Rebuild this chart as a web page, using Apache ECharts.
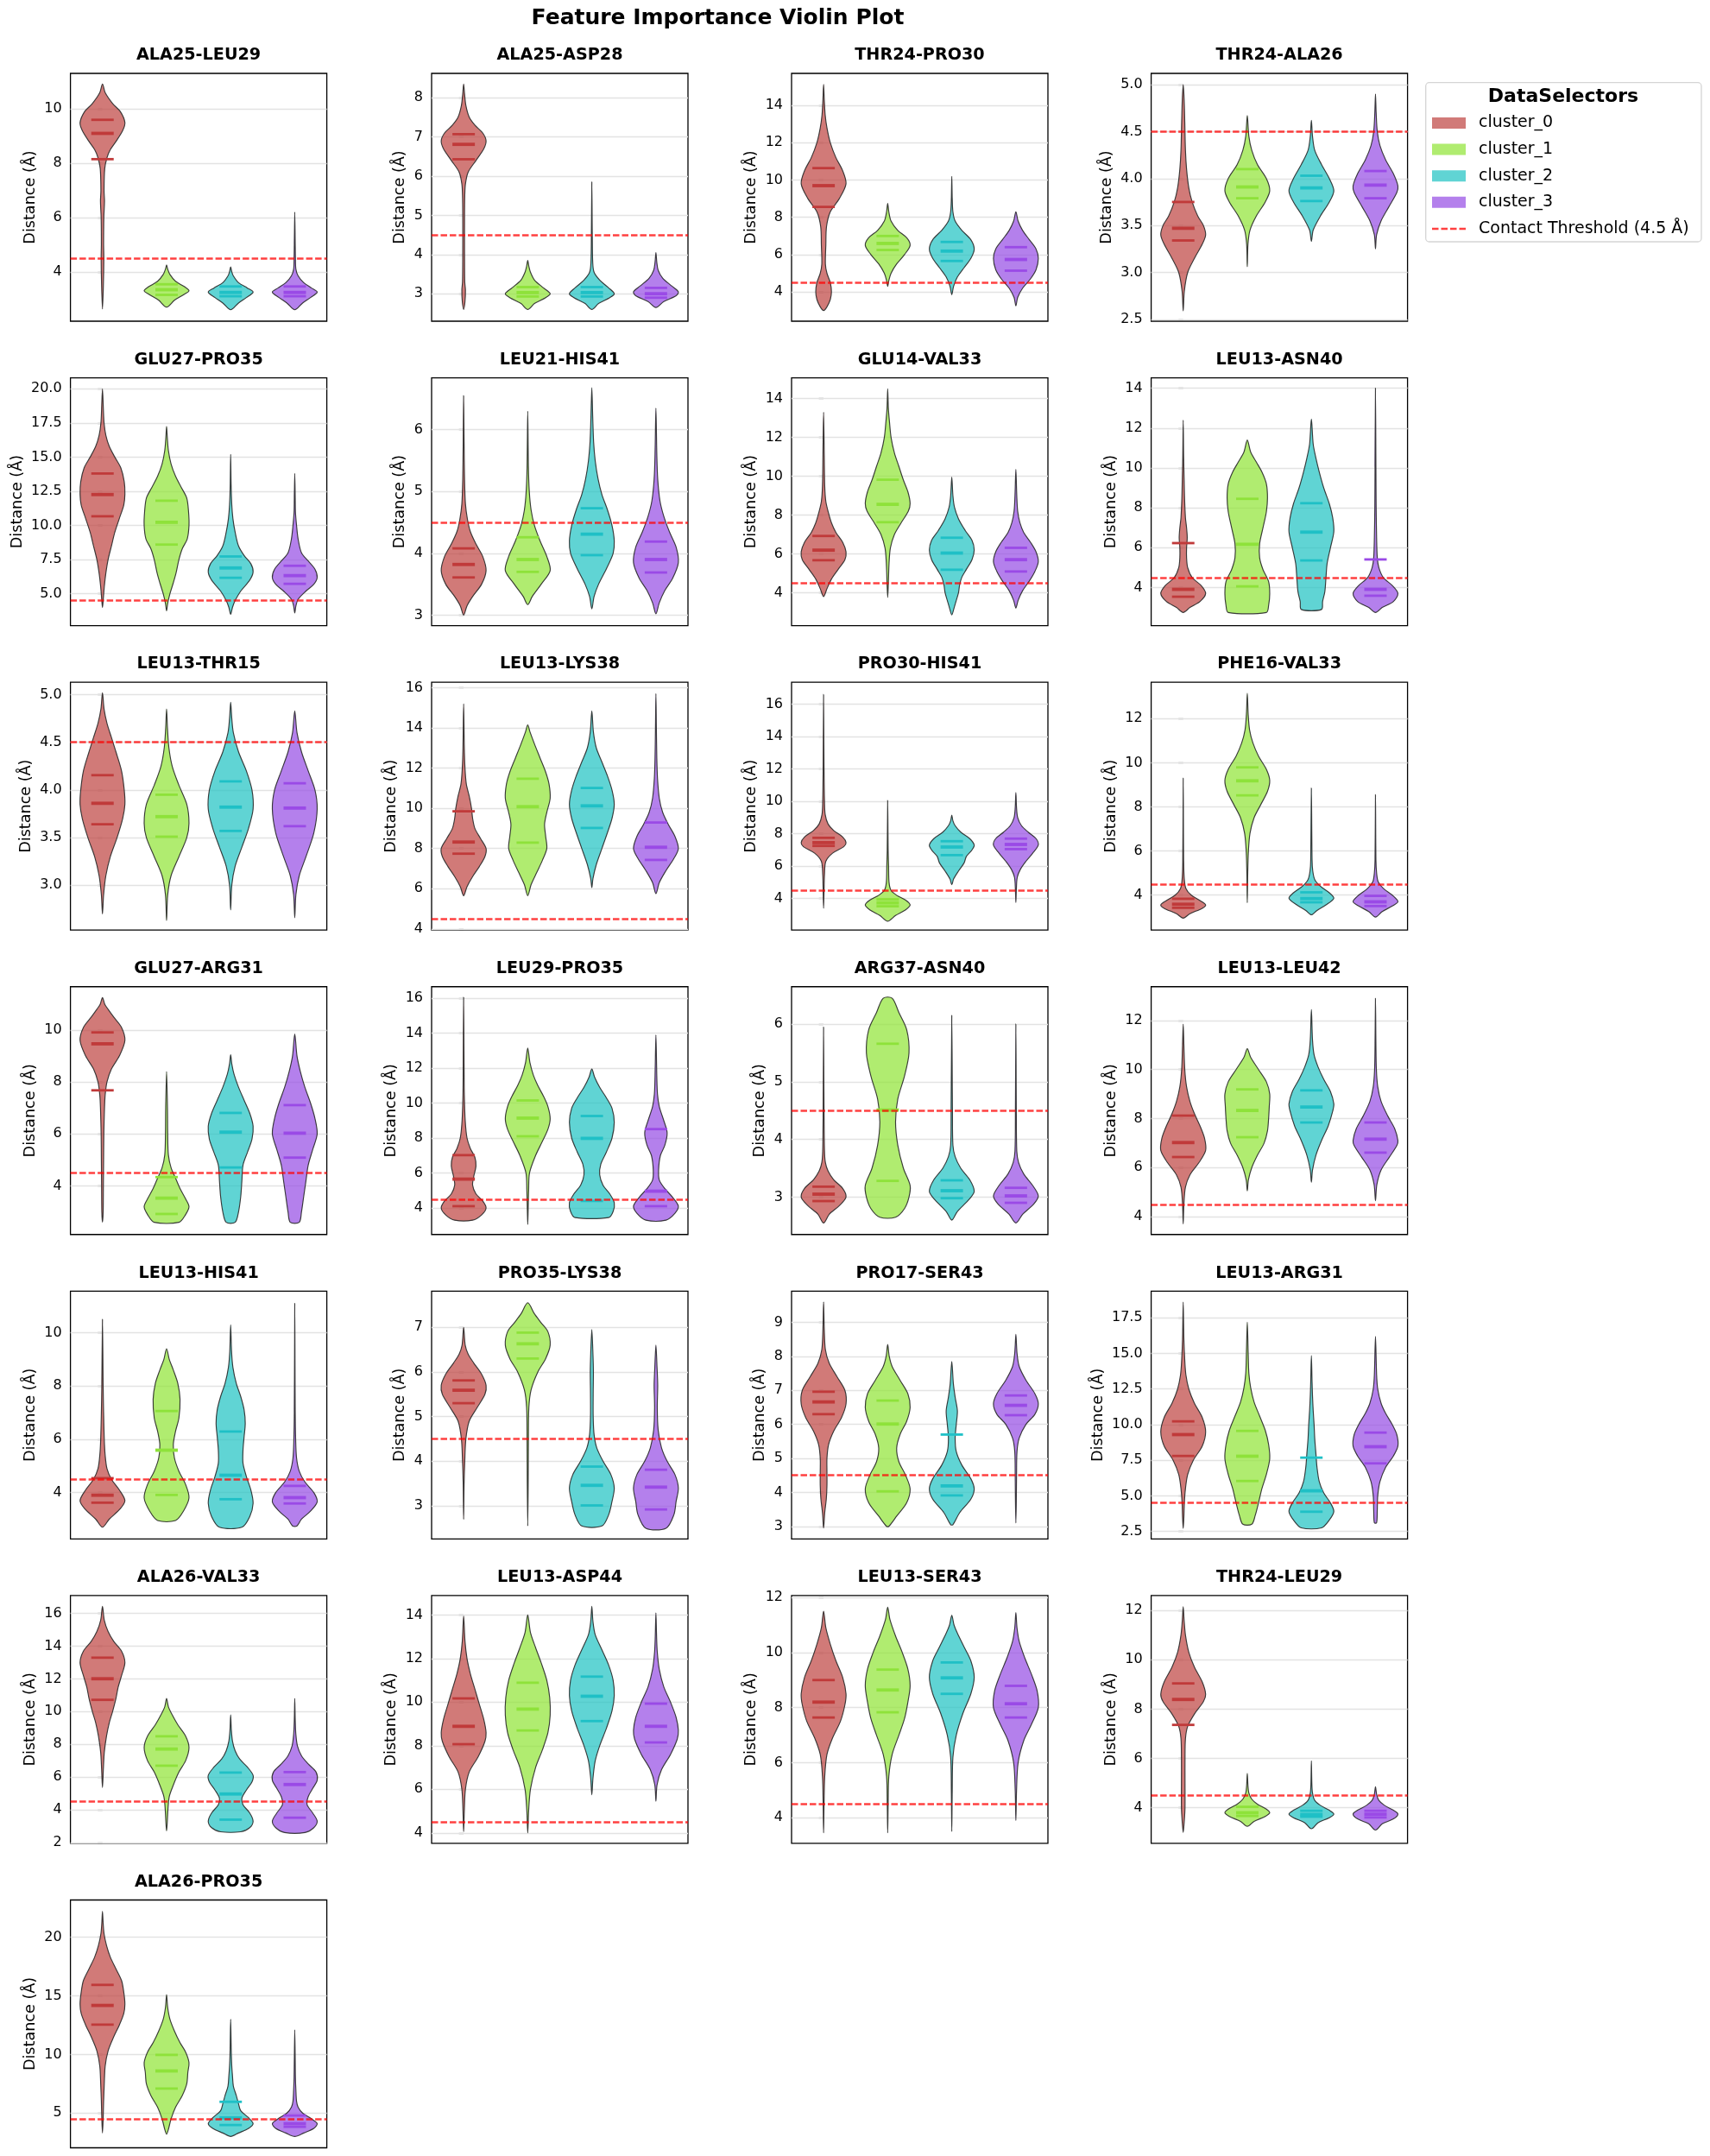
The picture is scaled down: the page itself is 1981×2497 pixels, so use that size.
<!DOCTYPE html>
<html><head><meta charset="utf-8">
<script src="https://cdn.jsdelivr.net/npm/echarts@6/dist/echarts.min.js"></script>
<style>html,body{margin:0;padding:0;background:#fff}#c{width:1981px;height:2497px}</style>
</head><body><div id="c"></div>
<script>
const titles = ['ALA25-LEU29','ALA25-ASP28','THR24-PRO30','THR24-ALA26','GLU27-PRO35','LEU21-HIS41','GLU14-VAL33','LEU13-ASN40','LEU13-THR15','LEU13-LYS38','PRO30-HIS41','PHE16-VAL33','GLU27-ARG31','LEU29-PRO35','ARG37-ASN40','LEU13-LEU42','LEU13-HIS41','PRO35-LYS38','PRO17-SER43','LEU13-ARG31','ALA26-VAL33','LEU13-ASP44','LEU13-SER43','THR24-LEU29','ALA26-PRO35'];
const clusterNames = ['cluster_0','cluster_1','cluster_2','cluster_3'];
const thresholdName = 'Contact Threshold (4.5 Å)';
const thresholdValue = 4.5;
const yLimits = [[2.18,11.31],[2.30,8.62],[2.43,15.72],[2.48,5.12],[2.67,20.8],[2.83,6.84],[2.3,15.07],[2.09,14.52],[2.53,5.13],[3.94,16.27],[2.05,17.36],[2.41,13.65],[2.13,11.67],[2.48,16.66],[2.35,6.65],[3.27,13.38],[2.26,11.56],[2.26,7.81],[2.63,9.92],[1.97,19.38],[1.94,17.1],[3.52,14.89],[3.07,12.07],[2.56,12.6],[2.04,23.17]];
const tickSteps = [2,1,2,0.5,2.5,1,2,2,0.5,2,2,2,2,2,1,2,2,1,1,2.5,2,2,2,2,5];
// [q3, median, q1] per cluster
const quartiles = [
[[9.6,9.1,8.15],[3.54,3.34,3.15],[3.46,3.24,3.10],[3.46,3.24,3.10]],
[[7.07,6.81,6.43],[3.17,3.03,2.93],[3.17,3.03,2.93],[3.15,3.0,2.9]],
[[10.64,9.70,8.56],[7.0,6.6,6.25],[6.68,6.19,5.66],[6.40,5.74,5.14]],
[[3.75,3.47,3.34],[4.10,3.91,3.79],[4.03,3.90,3.76],[4.08,3.93,3.79]],
[[13.8,12.26,10.67],[11.81,10.23,8.6],[7.73,6.89,6.17],[7.05,6.33,5.73]],
[[4.08,3.82,3.61],[4.26,3.9,3.70],[4.73,4.31,3.97],[4.19,3.9,3.69]],
[[6.92,6.19,5.67],[9.82,8.55,7.63],[6.83,6.04,5.18],[6.31,5.70,5.09]],
[[6.23,3.91,3.54],[8.45,6.17,4.06],[8.23,6.78,5.36],[5.41,3.91,3.59]],
[[4.155,3.86,3.64],[3.95,3.72,3.51],[4.09,3.82,3.57],[4.07,3.81,3.62]],
[[9.85,8.32,7.74],[11.47,10.08,8.29],[11.01,10.12,9.02],[9.29,8.06,7.43]],
[[7.75,7.45,7.25],[3.95,3.73,3.52],[7.54,7.18,6.68],[7.70,7.34,7.05]],
[[3.83,3.58,3.42],[9.79,9.18,8.52],[4.12,3.84,3.67],[3.96,3.69,3.50]],
[[9.91,9.47,7.68],[4.34,3.53,2.92],[6.81,6.07,4.71],[7.11,6.03,5.09]],
[[7.02,5.65,4.1],[10.15,9.14,8.10],[9.26,7.98,4.40],[8.51,4.96,4.1]],
[[3.18,3.05,2.93],[5.66,4.51,3.28],[3.29,3.11,2.98],[3.16,3.02,2.90]],
[[8.12,7.02,6.43],[9.19,8.33,7.24],[9.15,8.47,7.84],[7.84,7.16,6.61]],
[[4.54,3.90,3.62],[7.06,5.59,3.91],[6.29,4.65,3.75],[4.25,3.81,3.59]],
[[5.81,5.59,5.30],[6.88,6.63,6.30],[3.88,3.46,3.01],[3.81,3.42,2.92]],
[[6.96,6.66,6.30],[6.70,6.01,4.03],[5.70,4.19,3.91],[6.85,6.56,6.27]],
[[10.23,9.30,7.80],[9.56,7.78,6.04],[7.68,5.35,3.88],[9.44,8.45,7.28]],
[[13.30,12.01,10.72],[8.49,7.71,6.69],[6.27,4.96,3.39],[6.30,5.54,3.51]],
[[10.17,8.89,8.07],[10.89,9.68,8.70],[11.17,10.27,9.13],[9.93,8.89,8.15]],
[[9.0,8.2,7.64],[9.38,8.64,7.83],[9.64,9.08,8.50],[8.79,8.14,7.64]],
[[9.04,8.39,7.36],[4.04,3.80,3.67],[3.88,3.73,3.64],[3.88,3.74,3.61]],
[[15.93,14.18,12.54],[9.96,8.59,7.09],[5.96,4.59,3.98],[4.79,4.10,3.83]]
];
// violin outlines: flat pairs [distance, relative half-width] from bottom to top
const profiles = [
[[2.63,0,3.5,0.04,4.5,0.06,5.0,0.05,6.0,0.06,6.6,0.09,7.0,0.07,7.8,0.1,8.2,0.2,8.5,0.35,8.8,0.6,9.2,0.9,9.5,1.0,9.9,0.8,10.2,0.45,10.6,0.12,10.92,0],
 [2.7,0,2.95,0.35,3.15,0.75,3.3,1.0,3.45,0.8,3.65,0.4,3.9,0.15,4.1,0.05,4.25,0],
 [2.6,0,2.85,0.35,3.05,0.7,3.25,1.0,3.4,0.75,3.6,0.35,3.85,0.12,4.0,0.05,4.18,0],
 [2.6,0,2.85,0.35,3.05,0.7,3.25,1.0,3.4,0.75,3.6,0.4,3.85,0.15,4.1,0.05,4.5,0.03,5.0,0.02,6.2,0]],
[[2.6,0,2.8,0.06,3.1,0.08,3.3,0.05,4,0.04,5,0.04,5.5,0.05,5.8,0.08,6.1,0.2,6.4,0.55,6.7,0.9,6.9,1.0,7.1,0.85,7.3,0.5,7.5,0.25,7.8,0.1,8.1,0.04,8.35,0],
 [2.6,0,2.75,0.3,2.9,0.8,3.0,1.0,3.15,0.7,3.35,0.3,3.55,0.12,3.7,0.05,3.85,0],
 [2.6,0,2.75,0.3,2.9,0.8,3.0,1.0,3.15,0.75,3.35,0.35,3.55,0.1,3.8,0.04,4.5,0.02,5.85,0],
 [2.65,0,2.8,0.35,2.95,0.9,3.05,1.0,3.2,0.7,3.4,0.3,3.6,0.1,3.8,0.04,4.05,0]],
[[3.0,0,3.2,0.15,3.6,0.3,4.0,0.35,4.5,0.3,5.0,0.15,5.5,0.08,6.5,0.1,7.5,0.13,8.3,0.3,9.0,0.7,9.8,1.0,10.5,0.85,11.2,0.55,12,0.3,12.8,0.15,13.5,0.07,14.3,0.03,15.14,0],
 [4.3,0,4.6,0.05,5.0,0.15,5.5,0.4,6.0,0.75,6.5,1.0,6.9,0.85,7.3,0.45,7.8,0.15,8.3,0.05,8.75,0],
 [3.85,0,4.3,0.08,4.8,0.25,5.3,0.55,5.8,0.85,6.3,1.0,6.8,0.85,7.3,0.45,7.8,0.15,8.3,0.05,9,0.02,10.2,0],
 [3.25,0,3.7,0.08,4.2,0.3,4.7,0.65,5.2,0.9,5.8,1.0,6.3,0.9,6.8,0.6,7.3,0.3,7.8,0.1,8.3,0]],
[[2.59,0,2.8,0.05,3.0,0.2,3.15,0.5,3.3,0.85,3.4,1.0,3.5,0.9,3.6,0.65,3.75,0.4,3.9,0.25,4.1,0.15,4.3,0.1,4.6,0.07,4.85,0.04,5.0,0],
 [3.06,0,3.3,0.03,3.45,0.12,3.6,0.4,3.75,0.8,3.87,1.0,4.0,0.85,4.15,0.45,4.3,0.2,4.45,0.07,4.67,0],
 [3.33,0,3.45,0.08,3.6,0.4,3.75,0.8,3.87,1.0,4.0,0.8,4.15,0.45,4.3,0.15,4.45,0.05,4.62,0],
 [3.25,0,3.4,0.05,3.55,0.25,3.7,0.6,3.85,0.95,3.92,1.0,4.05,0.8,4.2,0.45,4.35,0.2,4.5,0.08,4.7,0.03,4.9,0]],
[[4.0,0,4.5,0.03,5.5,0.08,6.5,0.15,7.5,0.25,8.5,0.4,9.5,0.55,10.5,0.75,11.5,0.95,12.3,1.0,13.2,0.97,14.2,0.82,15,0.55,15.8,0.3,16.6,0.15,17.5,0.07,18.5,0.04,20,0],
 [3.75,0,4.3,0.05,5,0.15,5.8,0.3,6.5,0.42,7.5,0.55,8.3,0.7,9,0.92,10,1.0,11,0.98,12,0.9,12.8,0.65,13.6,0.4,14.5,0.2,15.5,0.08,16.5,0.03,17.25,0],
 [3.5,0,4,0.08,4.5,0.2,5.2,0.45,6,0.85,6.6,1.0,7.2,0.9,7.8,0.6,8.5,0.35,9.5,0.2,10.5,0.1,11.5,0.05,13,0.02,15.2,0],
 [3.6,0,4.1,0.05,4.6,0.15,5.2,0.5,5.7,0.85,6.2,1.0,6.8,0.9,7.4,0.6,8,0.3,9,0.15,10,0.08,11,0.03,12,0.02,13.8,0]],
[[3.0,0,3.15,0.15,3.3,0.4,3.5,0.8,3.72,1.0,3.95,0.85,4.15,0.55,4.35,0.3,4.55,0.17,4.8,0.08,5.2,0.04,5.8,0.02,6.55,0],
 [3.17,0,3.3,0.2,3.5,0.6,3.72,1.0,3.95,0.85,4.2,0.55,4.45,0.3,4.7,0.15,5.0,0.07,5.4,0.03,6.3,0],
 [3.1,0,3.3,0.1,3.5,0.3,3.75,0.65,4.0,0.95,4.2,1.0,4.45,0.9,4.7,0.7,4.95,0.45,5.2,0.28,5.5,0.15,5.8,0.08,6.2,0.04,6.68,0],
 [3.02,0,3.2,0.15,3.4,0.4,3.6,0.75,3.85,1.0,4.1,0.9,4.35,0.6,4.6,0.35,4.85,0.18,5.2,0.08,5.6,0.04,6.35,0]],
[[3.8,0,4.2,0.15,4.7,0.35,5.2,0.65,5.7,0.95,6.1,1.0,6.6,0.85,7.1,0.55,7.6,0.35,8.1,0.22,8.7,0.1,9.5,0.05,11,0.03,13.3,0],
 [3.75,0,4.5,0.03,5.5,0.06,6.3,0.12,7.0,0.3,7.6,0.6,8.2,0.92,8.6,1.0,9.2,0.9,9.8,0.7,10.5,0.5,11.2,0.3,12,0.15,12.8,0.08,13.5,0.03,14.5,0],
 [2.85,0,3.2,0.1,3.6,0.2,4.0,0.3,4.4,0.35,4.8,0.45,5.2,0.65,5.7,0.9,6.2,1.0,6.7,0.9,7.2,0.6,7.8,0.3,8.4,0.12,9.0,0.05,9.95,0],
 [3.2,0,3.6,0.1,4.1,0.3,4.6,0.6,5.1,0.85,5.6,1.0,6.1,0.9,6.6,0.65,7.1,0.35,7.6,0.18,8.2,0.08,9,0.04,10.35,0]],
[[2.75,0,3.0,0.3,3.3,0.75,3.7,1.0,4.1,0.8,4.5,0.4,5.0,0.2,5.5,0.15,6.0,0.15,6.5,0.18,7.0,0.15,7.5,0.1,8.5,0.06,9.5,0.04,10.5,0.02,12.4,0],
 [2.75,0.85,3.1,0.95,3.7,1.0,4.3,0.95,4.9,0.7,5.5,0.55,6.2,0.55,7.0,0.7,7.8,0.85,8.5,0.9,9.2,0.85,9.8,0.65,10.3,0.4,10.8,0.15,11.4,0],
 [2.9,0.45,3.3,0.5,3.8,0.6,4.5,0.65,5.2,0.7,6,0.85,6.8,1.0,7.5,0.95,8.2,0.8,9,0.55,9.8,0.35,10.5,0.2,11.2,0.08,12.45,0],
 [2.75,0,3.0,0.3,3.3,0.8,3.7,1.0,4.1,0.75,4.5,0.35,5.0,0.15,5.5,0.08,6.5,0.05,8,0.03,10,0.02,14,0]],
[[2.7,0,2.9,0.05,3.1,0.15,3.3,0.35,3.5,0.65,3.7,0.9,3.85,1.0,4.0,0.97,4.2,0.85,4.4,0.6,4.55,0.4,4.7,0.2,4.85,0.07,5.02,0],
 [2.63,0,2.9,0.05,3.1,0.2,3.3,0.55,3.5,0.9,3.65,1.0,3.85,0.9,4.05,0.55,4.25,0.25,4.45,0.1,4.65,0.04,4.85,0],
 [2.74,0,3.0,0.05,3.2,0.2,3.4,0.5,3.6,0.8,3.8,1.0,4.0,0.95,4.2,0.7,4.4,0.35,4.6,0.12,4.75,0.05,4.92,0],
 [2.66,0,2.9,0.05,3.1,0.2,3.3,0.5,3.55,0.85,3.8,1.0,4.0,0.9,4.2,0.6,4.4,0.3,4.6,0.1,4.83,0]],
[[5.65,0,6.1,0.15,6.6,0.4,7.1,0.7,7.6,0.95,8.0,1.0,8.5,0.75,9.0,0.5,9.5,0.4,10.0,0.35,10.6,0.25,11.2,0.12,12,0.06,13,0.03,15.2,0],
 [5.65,0,6.2,0.15,6.8,0.4,7.4,0.65,8.0,0.85,8.6,0.8,9.2,0.75,9.8,0.85,10.5,1.0,11.2,0.95,11.8,0.8,12.5,0.55,13.2,0.3,13.8,0.1,14.15,0],
 [6.05,0,6.5,0.05,7.2,0.2,8.0,0.45,8.8,0.7,9.5,0.9,10.2,1.0,10.9,0.9,11.6,0.7,12.3,0.45,13,0.2,13.8,0.07,14.85,0],
 [5.75,0,6.3,0.15,6.9,0.45,7.5,0.8,8.0,1.0,8.6,0.85,9.2,0.55,9.8,0.3,10.5,0.15,11.5,0.07,12.5,0.04,14,0.02,15.7,0]],
[[3.4,0,4.5,0.02,5.5,0.04,6.3,0.1,6.8,0.4,7.2,0.9,7.45,1.0,7.8,0.85,8.2,0.45,8.6,0.2,9.2,0.07,10,0.04,12,0.02,16.6,0],
 [2.6,0,2.95,0.35,3.3,0.8,3.6,1.0,3.9,0.8,4.2,0.4,4.5,0.15,5.0,0.06,6,0.04,7,0.02,10.05,0],
 [4.85,0,5.2,0.08,5.7,0.3,6.2,0.55,6.6,0.65,7.0,0.9,7.3,1.0,7.7,0.8,8.1,0.4,8.5,0.15,8.8,0.05,9.15,0],
 [3.75,0,4.5,0.02,5.3,0.06,5.8,0.2,6.3,0.45,6.8,0.75,7.3,1.0,7.7,0.9,8.1,0.55,8.5,0.25,9,0.08,9.6,0.03,10.55,0]],
[[2.95,0,3.15,0.3,3.4,0.85,3.55,1.0,3.75,0.75,4.0,0.35,4.3,0.12,4.7,0.05,5.5,0.02,9.3,0],
 [3.65,0,5,0.02,6,0.05,6.8,0.12,7.5,0.3,8.1,0.6,8.7,0.9,9.2,1.0,9.7,0.85,10.3,0.5,10.9,0.25,11.5,0.1,12.2,0.04,13.15,0],
 [3.1,0,3.3,0.25,3.55,0.65,3.85,1.0,4.1,0.8,4.4,0.4,4.7,0.15,5.1,0.06,5.6,0.03,8.85,0],
 [3.0,0,3.25,0.3,3.5,0.75,3.7,1.0,3.95,0.8,4.3,0.35,4.6,0.12,5.0,0.05,5.6,0.02,8.55,0]],
[[2.6,0,3,0.03,4,0.04,5,0.05,6,0.06,7,0.09,7.5,0.12,8.0,0.2,8.5,0.4,9.0,0.75,9.6,1.0,10.1,0.85,10.5,0.5,10.8,0.25,11.0,0.1,11.25,0],
 [2.6,0.55,2.9,0.85,3.2,1.0,3.5,0.85,3.9,0.6,4.3,0.4,4.7,0.2,5.2,0.08,6,0.05,7,0.04,8.4,0],
 [2.6,0.2,3.0,0.35,3.6,0.45,4.2,0.5,4.8,0.55,5.3,0.75,5.8,0.95,6.3,1.0,6.8,0.85,7.3,0.6,7.8,0.35,8.3,0.15,8.7,0.05,9.05,0],
 [2.6,0.2,3.0,0.3,3.6,0.4,4.2,0.5,4.8,0.6,5.4,0.8,6.0,1.0,6.6,0.9,7.2,0.7,7.8,0.45,8.4,0.25,9.0,0.1,9.85,0]],
[[3.3,0.4,3.6,0.8,4.0,1.0,4.4,0.85,4.8,0.55,5.3,0.4,5.8,0.45,6.4,0.55,6.9,0.5,7.4,0.3,8,0.15,9,0.07,10.5,0.03,12,0.02,16.05,0],
 [3.05,0,4,0.02,5,0.04,6,0.08,7,0.35,7.8,0.65,8.5,0.9,9.1,1.0,9.8,0.9,10.4,0.7,11,0.45,11.6,0.25,12.3,0.1,13.15,0],
 [3.45,0.75,3.8,0.95,4.3,1.0,4.8,0.8,5.3,0.5,5.9,0.35,6.5,0.4,7.2,0.65,8.0,0.9,8.9,1.0,9.7,0.9,10.3,0.65,10.9,0.35,11.5,0.12,11.95,0],
 [3.3,0.45,3.7,0.85,4.1,1.0,4.6,0.75,5.1,0.4,5.6,0.15,6.2,0.12,7.0,0.2,7.6,0.4,8.3,0.5,9.0,0.35,9.8,0.15,10.5,0.07,11.5,0.04,13.9,0]],
[[2.55,0,2.7,0.25,2.85,0.7,3.0,1.0,3.15,0.85,3.3,0.45,3.45,0.2,3.6,0.08,3.8,0.04,4.5,0.02,5.95,0],
 [2.65,0.35,2.8,0.75,3.0,0.95,3.2,1.0,3.5,0.7,3.9,0.45,4.3,0.35,4.7,0.45,5.1,0.75,5.5,0.95,5.9,0.85,6.2,0.5,6.45,0.2],
 [2.6,0,2.75,0.25,2.95,0.75,3.1,1.0,3.3,0.8,3.5,0.4,3.7,0.15,3.9,0.05,4.5,0.03,6.15,0],
 [2.55,0,2.7,0.3,2.88,0.8,3.02,1.0,3.2,0.75,3.4,0.35,3.6,0.12,3.8,0.04,4.5,0.02,6.0,0]],
[[3.7,0,4.5,0.03,5.2,0.1,5.7,0.3,6.2,0.7,6.7,1.0,7.2,0.95,7.7,0.75,8.2,0.5,8.7,0.3,9.3,0.15,10,0.07,11,0.03,11.85,0],
 [5.05,0,5.5,0.05,6.0,0.2,6.5,0.45,7.0,0.75,7.5,0.9,8.0,0.95,8.5,0.98,9.0,1.0,9.5,0.85,10.0,0.5,10.5,0.15,10.85,0],
 [5.4,0,5.9,0.05,6.5,0.2,7.1,0.45,7.7,0.75,8.3,0.95,8.6,1.0,9.1,0.85,9.6,0.55,10.1,0.3,10.6,0.12,11.2,0.05,12.45,0],
 [4.65,0,5.3,0.06,5.9,0.25,6.4,0.6,6.9,0.95,7.1,1.0,7.6,0.85,8.1,0.55,8.7,0.25,9.3,0.1,10,0.04,11,0.02,12.9,0]],
[[2.7,0,3.0,0.3,3.4,0.8,3.7,1.0,4.1,0.75,4.5,0.4,4.9,0.2,5.4,0.12,6,0.08,7,0.05,8,0.03,10.5,0],
 [2.95,0.4,3.3,0.75,3.8,1.0,4.3,0.85,4.8,0.55,5.3,0.35,5.8,0.3,6.3,0.4,6.8,0.55,7.5,0.6,8.1,0.5,8.6,0.3,9.0,0.12,9.4,0],
 [2.7,0.5,3.1,0.85,3.6,1.0,4.1,0.9,4.6,0.7,5.1,0.55,5.6,0.55,6.1,0.6,6.6,0.65,7.1,0.6,7.6,0.45,8.1,0.25,8.7,0.1,9.3,0.04,10.3,0],
 [2.75,0.1,3.0,0.3,3.3,0.7,3.65,1.0,4.0,0.85,4.4,0.45,4.8,0.2,5.3,0.08,6,0.04,7,0.02,11.1,0]],
[[2.7,0,3.5,0.02,4.0,0.05,4.5,0.1,4.9,0.25,5.2,0.6,5.5,0.95,5.7,1.0,5.95,0.8,6.2,0.45,6.4,0.2,6.6,0.07,7.0,0],
 [2.55,0,3.5,0.02,4.5,0.03,5.2,0.05,5.6,0.15,6.0,0.45,6.3,0.8,6.6,1.0,6.9,0.9,7.1,0.6,7.3,0.3,7.55,0],
 [2.55,0.45,2.8,0.75,3.1,0.9,3.4,1.0,3.7,0.85,4.0,0.5,4.3,0.22,4.6,0.1,5.0,0.06,5.5,0.06,6.0,0.07,6.4,0.05,6.95,0],
 [2.5,0.45,2.8,0.8,3.1,0.9,3.4,1.0,3.7,0.85,4.0,0.5,4.3,0.25,4.7,0.1,5.2,0.06,5.7,0.08,6.1,0.05,6.6,0]],
[[2.95,0,3.4,0.05,3.8,0.12,4.2,0.15,4.6,0.15,5.0,0.15,5.4,0.22,5.8,0.45,6.2,0.8,6.6,1.0,7.0,0.95,7.4,0.6,7.8,0.25,8.2,0.08,8.8,0.03,9.6,0],
 [3.0,0.05,3.3,0.4,3.7,0.85,4.1,1.0,4.5,0.8,4.9,0.5,5.3,0.4,5.7,0.55,6.1,0.85,6.5,1.0,6.9,0.9,7.3,0.55,7.7,0.2,8.0,0.07,8.35,0],
 [3.05,0.05,3.4,0.35,3.8,0.85,4.1,1.0,4.4,0.85,4.8,0.45,5.2,0.2,5.6,0.15,6.0,0.2,6.4,0.25,6.8,0.15,7.2,0.07,7.85,0],
 [3.1,0,3.8,0.02,4.5,0.03,5.2,0.05,5.6,0.15,6.0,0.45,6.3,0.85,6.6,1.0,6.9,0.85,7.3,0.45,7.7,0.15,8.1,0.05,8.65,0]],
[[2.7,0,3.5,0.03,4.5,0.05,5.5,0.1,6.5,0.2,7.5,0.45,8.5,0.85,9.5,1.0,10.5,0.85,11.5,0.5,12.5,0.25,13.5,0.12,14.5,0.07,16,0.03,18.6,0],
 [3.0,0.2,3.6,0.35,4.5,0.5,5.5,0.65,6.5,0.85,7.6,1.0,8.6,0.95,9.6,0.8,10.6,0.55,11.6,0.3,12.6,0.15,13.6,0.07,15,0.04,17.2,0],
 [2.75,0.45,3.3,0.8,3.9,1.0,4.5,0.85,5.2,0.55,6.0,0.35,7.0,0.25,8.0,0.2,9.0,0.15,10.0,0.12,11,0.08,12,0.05,13,0.03,14.85,0],
 [3.1,0.05,4,0.08,5,0.1,6,0.2,7,0.45,7.8,0.8,8.5,1.0,9.3,0.95,10,0.75,10.8,0.45,11.5,0.25,12.5,0.1,13.5,0.05,16.2,0]],
[[5.35,0,6.5,0.04,7.5,0.08,8.5,0.18,9.3,0.3,10,0.45,10.8,0.6,11.5,0.7,12.2,0.85,13,1.0,13.7,0.85,14.3,0.5,14.9,0.25,15.6,0.08,16.45,0],
 [2.7,0,3.2,0.03,4,0.06,4.8,0.12,5.5,0.3,6.3,0.55,7.0,0.85,7.8,1.0,8.5,0.85,9.2,0.5,9.8,0.25,10.3,0.08,10.8,0],
 [2.65,0.45,2.9,0.85,3.3,1.0,3.8,0.85,4.3,0.55,4.7,0.5,5.2,0.7,5.7,0.95,6.1,1.0,6.6,0.75,7.1,0.4,7.6,0.2,8.2,0.08,8.9,0.03,9.8,0],
 [2.6,0.45,2.9,0.85,3.3,1.0,3.8,0.8,4.3,0.55,4.8,0.6,5.3,0.8,5.8,1.0,6.3,0.95,6.8,0.6,7.3,0.3,7.9,0.12,8.6,0.05,9.5,0.02,10.8,0]],
[[4.05,0,5,0.03,6,0.08,6.8,0.25,7.5,0.65,8.2,0.95,8.6,1.0,9.2,0.9,9.9,0.7,10.6,0.5,11.3,0.3,12,0.15,12.8,0.06,13.95,0],
 [4.0,0,5,0.04,6,0.12,7,0.35,7.8,0.65,8.6,0.9,9.4,1.0,10.2,0.98,11,0.85,11.8,0.6,12.5,0.35,13.2,0.12,14.0,0],
 [5.75,0,6.5,0.05,7.3,0.15,8.0,0.35,8.8,0.65,9.6,0.9,10.3,1.0,11.0,0.95,11.7,0.75,12.4,0.45,13.1,0.15,13.7,0.05,14.4,0],
 [5.45,0,6.2,0.05,6.9,0.25,7.6,0.65,8.3,0.95,8.7,1.0,9.3,0.9,10,0.65,10.7,0.35,11.5,0.15,12.3,0.06,13,0.03,14.1,0]],
[[3.45,0,4.5,0.02,5.5,0.05,6.3,0.15,6.9,0.4,7.5,0.75,8.1,0.95,8.5,1.0,9.1,0.85,9.7,0.55,10.3,0.3,10.9,0.1,11.5,0],
 [3.45,0,4.5,0.02,5.5,0.05,6.3,0.2,7.0,0.5,7.6,0.75,8.2,0.9,8.8,1.0,9.4,0.9,10.0,0.65,10.6,0.35,11.2,0.1,11.65,0],
 [3.5,0,5,0.02,6.2,0.05,7.0,0.2,7.8,0.5,8.5,0.85,9.1,1.0,9.7,0.85,10.2,0.55,10.7,0.25,11.0,0.1,11.35,0],
 [3.9,0,5,0.03,6,0.1,6.8,0.35,7.4,0.7,8.0,1.0,8.6,0.95,9.2,0.7,9.8,0.4,10.4,0.15,10.9,0.05,11.45,0]],
[[3.0,0,3.5,0.05,4.0,0.08,5,0.08,6,0.08,6.8,0.1,7.3,0.2,7.8,0.5,8.3,0.9,8.6,1.0,9.1,0.85,9.7,0.5,10.3,0.25,11,0.1,11.6,0.04,12.15,0],
 [3.25,0,3.45,0.3,3.65,0.8,3.8,1.0,3.95,0.85,4.15,0.45,4.35,0.2,4.6,0.07,4.9,0.03,5.4,0],
 [3.15,0,3.4,0.3,3.6,0.8,3.75,1.0,3.9,0.8,4.1,0.4,4.3,0.15,4.6,0.05,5.0,0.02,5.9,0],
 [3.1,0,3.35,0.3,3.55,0.8,3.75,1.0,3.9,0.8,4.1,0.4,4.3,0.15,4.55,0.05,4.85,0]],
[[3.3,0,4.5,0.03,6,0.05,7.5,0.08,9,0.12,10.3,0.25,11.5,0.5,12.5,0.75,13.5,0.95,14.3,1.0,15.3,0.95,16.3,0.85,17.3,0.6,18.3,0.35,19.3,0.18,20.3,0.07,21.2,0.03,22.2,0],
 [3.2,0,3.6,0.08,4.5,0.2,5.5,0.4,6.5,0.7,7.5,0.9,8.5,0.95,9.3,1.0,10.2,0.85,11,0.6,12,0.35,13,0.15,14,0.05,15.1,0],
 [3.0,0,3.3,0.35,3.7,0.8,4.1,1.0,4.6,0.8,5.2,0.45,5.8,0.35,6.5,0.25,7.3,0.12,8.2,0.08,9,0.05,10,0.03,11,0.02,13,0],
 [3.0,0,3.3,0.4,3.7,0.85,4.1,1.0,4.5,0.75,5.0,0.35,5.5,0.15,6,0.08,7,0.05,8,0.03,12.1,0]]
];

const lineColors = ['#c03a3a','#8ee23a','#1fc0c6','#9a4ae6'];
const fillColors = ['rgba(190,65,62,0.7)','rgba(142,228,51,0.7)','rgba(28,194,194,0.7)','rgba(148,74,228,0.7)'];
const FONT = 'DejaVu Sans';

const colLeft = [81.6, 500, 917, 1333.6];
const rowTop0 = 85, rowPitch = 352.58, gW = 297, gH = 287;

const ctx = document.createElement('canvas').getContext('2d');
ctx.font = '16px "DejaVu Sans"';

function ticksFor(i) {
  const lo = yLimits[i][0], hi = yLimits[i][1], s = tickSteps[i];
  const out = [];
  for (let k = Math.ceil(lo / s - 1e-9); k * s <= hi + 1e-9; k++) out.push(+(k * s).toFixed(4));
  return out;
}
function fmt(i, v) {
  const s = tickSteps[i];
  return (s === 0.5 || s === 2.5) ? v.toFixed(1) : String(Math.round(v));
}

const grids = [], xAxes = [], yAxes = [], series = [], graphics = [];
titles.forEach((t, i) => {
  const left = colLeft[i % 4], top = rowTop0 + Math.floor(i / 4) * rowPitch;
  grids.push({left: left, top: top, width: gW, height: gH, show: true, borderColor: '#000', borderWidth: 1.3, backgroundColor: 'transparent', containLabel: false, outerBoundsMode: 'none'});
  xAxes.push({gridIndex: i, type: 'value', min: -0.5, max: 3.5, show: false});
  const ticks = ticksFor(i);
  let maxW = 0; ticks.forEach(v => { maxW = Math.max(maxW, ctx.measureText(fmt(i, v)).width); });
  yAxes.push({
    gridIndex: i, type: 'value', min: yLimits[i][0], max: yLimits[i][1],
    axisLine: {show: false},
    axisTick: {show: true, inside: false, length: 5.5, lineStyle: {color: '#000', width: 1.2}, customValues: ticks},
    axisLabel: {show: true, customValues: ticks, formatter: v => fmt(i, v), fontSize: 16, color: '#000', fontFamily: FONT, margin: 10},
    splitLine: {show: false},
    name: 'Distance (Å)', nameLocation: 'middle', nameRotate: 90, nameGap: 10 + maxW + 7, nameMoveOverlap: false,
    nameTextStyle: {fontSize: 17.6, color: '#000', fontFamily: FONT}
  });
  // grid lines
  series.push({type: 'line', xAxisIndex: i, yAxisIndex: i, data: [], silent: true, animation: false,
    markLine: {silent: true, symbol: ['none','none'], z: 1, animation: false, label: {show: false},
      lineStyle: {color: '#e3e3e3', width: 1.3, type: 'solid'}, emphasis: {disabled: true},
      data: ticks.map(v => ({yAxis: v}))}});
  // violins
  series.push({type: 'custom', xAxisIndex: i, yAxisIndex: i, z: 2, silent: true, animation: false,
    data: [0,1,2,3].map(k => [k, quartiles[i][k][1]]),
    renderItem: function (params, api) {
      const k = api.value(0);
      const prof = profiles[i][k];
      const cx = api.coord([k, 0])[0];
      const half = api.size([0.35, 0])[0];
      const pts = [];
      for (let j = 0; j < prof.length; j += 2) {
        const py = api.coord([k, prof[j]])[1];
        pts.push([cx + prof[j + 1] * half, py]);
      }
      for (let j = prof.length - 2; j >= 0; j -= 2) {
        if (prof[j + 1] === 0) continue;
        const py = api.coord([k, prof[j]])[1];
        pts.push([cx - prof[j + 1] * half, py]);
      }
      return {type: 'polygon', shape: {points: pts, smooth: 0.3},
        style: {fill: fillColors[k], stroke: 'rgba(40,40,40,0.9)', lineWidth: 1.15}};
    }});
  // quartile lines
  series.push({type: 'custom', xAxisIndex: i, yAxisIndex: i, z: 3, silent: true, animation: false,
    data: [0,1,2,3].map(k => [k, quartiles[i][k][1]]),
    renderItem: function (params, api) {
      const k = api.value(0);
      const x1 = api.coord([k - 0.175, 0])[0], x2 = api.coord([k + 0.175, 0])[0];
      const ch = quartiles[i][k].map((q, m) => {
        const y = api.coord([k, q])[1];
        return {type: 'line', shape: {x1: x1, y1: y, x2: x2, y2: y},
          style: {stroke: lineColors[k], lineWidth: m === 1 ? 3.8 : 2.8}};
      });
      return {type: 'group', children: ch};
    }});
  // threshold
  series.push({type: 'line', xAxisIndex: i, yAxisIndex: i, data: [], silent: true, animation: false,
    markLine: {silent: true, symbol: ['none','none'], z: 6, animation: false, label: {show: false},
      lineStyle: {color: 'rgba(255,0,0,0.75)', width: 2.6, type: [7.5, 3]}, emphasis: {disabled: true},
      data: [{yAxis: thresholdValue}]}});
  graphics.push({type: 'text', x: left + gW / 2, y: top - 20.8, silent: true,
    style: {text: t, font: 'bold 19.2px "DejaVu Sans"', fill: '#000', textAlign: 'center', textVerticalAlign: 'middle', align: 'center', verticalAlign: 'middle'}});
});

// legend dummies
const patchIcon = 'path://M0,0h39v13h-39z M48.9,12.9h0.1v0.1h-0.1z';
const dashIcon = 'path://M0,0h0.1v0.1h-0.1z M0,5.25h7.5v2.5h-7.5z M10.5,5.25h7.5v2.5h-7.5z M21,5.25h7.5v2.5h-7.5z M31.5,5.25h7.5v2.5h-7.5z M48.9,12.9h0.1v0.1h-0.1z';
clusterNames.forEach((n, k) => series.push({type: 'bar', name: n, xAxisIndex: 0, yAxisIndex: 0, data: [], itemStyle: {color: fillColors[k]}}));
series.push({type: 'bar', name: thresholdName, xAxisIndex: 0, yAxisIndex: 0, data: [], itemStyle: {color: 'rgba(255,0,0,0.75)'}});

graphics.push({type: 'text', x: 831.5, y: 21.5, silent: true,
  style: {text: 'Feature Importance Violin Plot', font: 'bold 25px "DejaVu Sans"', fill: '#000', textAlign: 'center', textVerticalAlign: 'middle', align: 'center', verticalAlign: 'middle'}});
graphics.push({type: 'rect', silent: true, z: -1, shape: {x: 1651.7, y: 95.7, width: 319.3, height: 184.3, r: 4},
  style: {fill: '#fff', stroke: '#d5d5d5', lineWidth: 1.3}});
graphics.push({type: 'text', x: 1811, y: 112, silent: true,
  style: {text: 'DataSelectors', font: 'bold 22px "DejaVu Sans"', fill: '#000', textAlign: 'center', textVerticalAlign: 'middle', align: 'center', verticalAlign: 'middle'}});

const chart = echarts.init(document.getElementById('c'), null, {renderer: 'canvas', width: 1981, height: 2497});
chart.setOption({
  backgroundColor: '#fff',
  animation: false,
  grid: grids, xAxis: xAxes, yAxis: yAxes, series: series,
  graphic: graphics,
  legend: {show: true, orient: 'vertical', left: 1659, top: 133, itemWidth: 49, itemHeight: 13, itemGap: 11.6, padding: 0,
    selectedMode: false, textStyle: {fontSize: 19, color: '#000', fontFamily: FONT}, itemStyle: {borderWidth: 0},
    data: clusterNames.map(n => ({name: n, icon: patchIcon})).concat([{name: thresholdName, icon: dashIcon}])}
});
</script></body></html>
